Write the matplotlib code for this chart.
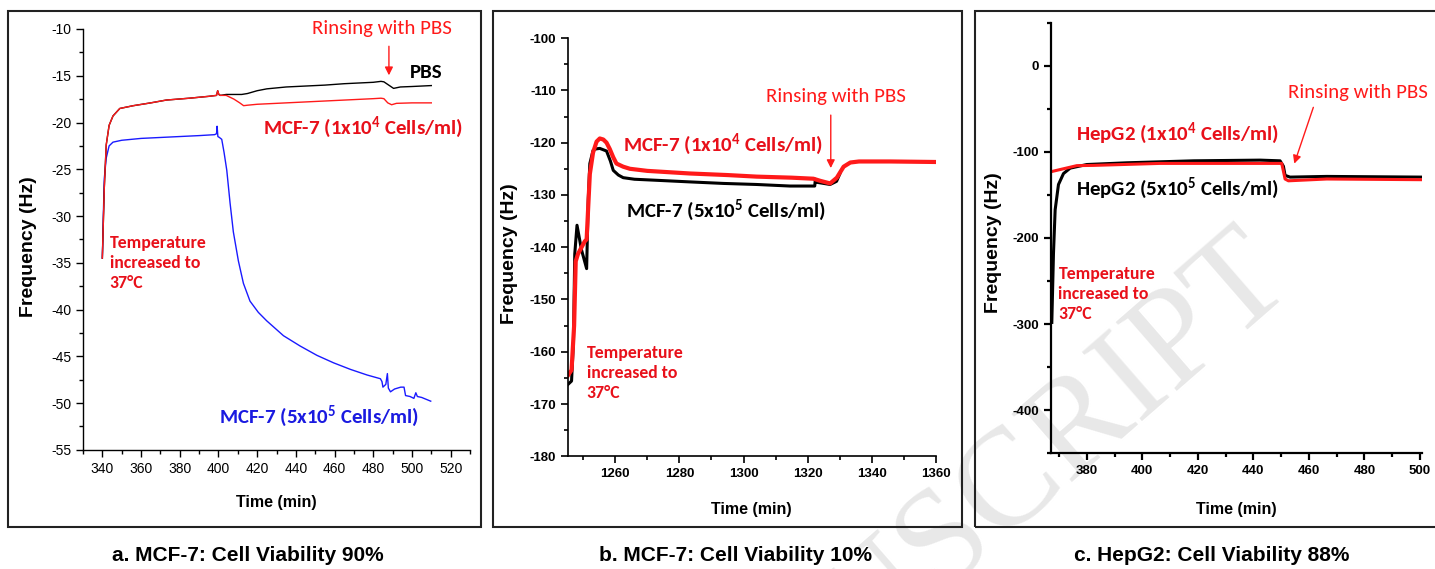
import matplotlib
matplotlib.use('Agg')
import matplotlib.pyplot as plt
from matplotlib import font_manager
from matplotlib.patches import Rectangle
from matplotlib.ticker import MultipleLocator

# fonts that are actually there
names = {f.name for f in font_manager.fontManager.ttflist}
sans = 'Liberation Sans' if 'Liberation Sans' in names else 'DejaVu Sans'
note_font = 'Carlito' if 'Carlito' in names else 'Lato'

plt.rcParams['axes.unicode_minus'] = False
plt.rcParams['mathtext.fontset'] = 'custom'
plt.rcParams['mathtext.rm'] = note_font + ':bold'
plt.rcParams['mathtext.it'] = note_font + ':bold'
plt.rcParams['mathtext.bf'] = note_font + ':bold'

# ---- panel a: MCF-7, cell viability 90% ----
a_pbs_t = [340, 341, 342, 343.5, 345.5, 349, 356, 365, 373, 385, 395, 399, 399.6, 400.2, 401,
           404, 408, 412, 415, 420, 425, 435, 445, 455, 465, 475, 480, 484, 485.5, 488, 490.5,
           494, 500, 505, 510]
a_pbs_f = [-34.5, -27.0, -22.4, -20.3, -19.3, -18.5, -18.2, -17.9, -17.6, -17.4, -17.2, -17.1,
           -16.6, -17.0, -17.1, -17.0, -17.0, -17.0, -16.9, -16.6, -16.4, -16.2, -16.1, -16.0,
           -15.85, -15.75, -15.7, -15.6, -15.65, -16.0, -16.35, -16.2, -16.15, -16.1, -16.05]
a_low_t = [340, 341, 342, 343.5, 345.5, 349, 356, 365, 373, 385, 395, 399, 399.6, 400.2, 401,
           404, 406, 408, 411, 413, 415, 420, 430, 440, 450, 460, 470, 480, 484, 485.5, 487.5,
           489.5, 492, 500, 510]
a_low_f = [-34.5, -27.0, -22.4, -20.3, -19.3, -18.5, -18.2, -17.9, -17.6, -17.4, -17.2, -17.1,
           -16.6, -17.0, -17.1, -17.1, -17.3, -17.5, -17.9, -18.2, -18.15, -18.05, -17.95,
           -17.85, -17.75, -17.65, -17.55, -17.45, -17.4, -17.45, -17.9, -18.1, -17.95, -17.9,
           -17.9]
a_high_t = [340, 340.5, 341, 342, 343.5, 345.5, 350, 360, 370, 380, 390, 398, 399, 399.3,
            399.7, 400.5, 401.7, 402.9, 404.3, 406.0, 407.7, 410.3, 412.9, 416.3, 420.6, 424.9,
            433.6, 442.2, 450.9, 459.5, 468.2, 476.8, 483.7, 484.5, 485, 486.5, 487.3, 487.8,
            488.9, 491, 494.2, 495.9, 496.7, 499, 501, 502, 502.8, 505, 509.7]
a_high_f = [-34.5, -30.0, -26.0, -23.8, -22.5, -22.1, -21.9, -21.7, -21.6, -21.5, -21.4, -21.3,
            -21.2, -20.4, -21.5, -21.6, -21.8, -23.2, -25.1, -28.6, -31.7, -34.8, -37.2, -39.1,
            -40.3, -41.2, -42.8, -43.9, -44.9, -45.7, -46.4, -47.0, -47.4, -47.7, -48.3, -48.0,
            -46.85, -48.4, -48.8, -48.5, -48.3, -48.3, -49.2, -49.3, -49.5, -48.9, -49.3, -49.4,
            -49.8]

# ---- panel b: MCF-7, cell viability 10% ----
b_high_t = [1245.2, 1246.4, 1247.0, 1247.4, 1248.1, 1249.5, 1251.1, 1251.6, 1252.1, 1253.1,
            1254.0, 1255.2, 1257.3, 1258.5, 1259.4, 1261.0, 1262.5, 1266.0, 1272.9, 1283.0,
            1293.7, 1304.0, 1314.5, 1322.2, 1322.4, 1323.0, 1327.0, 1329.0, 1330.0]
b_high_f = [-166.3, -165.6, -158.0, -141.3, -135.8, -140.5, -144.1, -130.9, -124.0, -121.5,
            -121.2, -121.1, -121.6, -123.5, -125.3, -126.2, -126.7, -127.0, -127.2, -127.5,
            -127.8, -128.0, -128.3, -128.3, -127.0, -127.6, -128.0, -127.4, -126.0]
b_low_t = [1245.2, 1246.4, 1247.2, 1247.7, 1248.4, 1250.5, 1251.1, 1252.1, 1253.1, 1254.2,
           1255.2, 1256.3, 1257.3, 1258.3, 1259.4, 1260.4, 1262.5, 1264.6, 1270.0, 1283.3,
           1295.0, 1304.1, 1315.0, 1321.8, 1323.9, 1327.0, 1329.1, 1331.2, 1333.3, 1336.0,
           1345.7, 1360.0]
b_low_f = [-164.6, -163.5, -155.0, -142.7, -141.3, -138.9, -138.5, -126.0, -121.9, -119.8,
           -119.2, -119.4, -120.0, -121.2, -122.8, -124.0, -124.6, -125.0, -125.4, -125.9,
           -126.2, -126.5, -126.7, -126.9, -127.3, -127.8, -126.7, -124.6, -123.8, -123.6,
           -123.6, -123.7]

# ---- panel c: HepG2, cell viability 88% ----
c_high_t = [367.4, 368.0, 368.6, 369.8, 371.6, 374.0, 380.0, 394.4, 418.4, 442.4, 449.6, 450.8,
            451.4, 453.2, 466.4, 500.6]
c_high_f = [-298.0, -217.8, -167.4, -138.0, -125.3, -119.0, -114.8, -112.8, -110.5, -109.7,
            -110.5, -116.8, -127.4, -129.4, -128.6, -129.4]
c_low_t = [367.0, 376.4, 382.4, 406.4, 442.4, 450.2, 451.4, 452.6, 466.4, 500.6]
c_low_f = [-123.2, -116.1, -115.8, -113.5, -113.5, -113.5, -131.6, -133.7, -131.6, -132.4]

captions = ['a. MCF-7: Cell Viability 90%', 'b. MCF-7: Cell Viability 10%',
            'c. HepG2: Cell Viability 88%']

W, H = 1435, 569
fig = plt.figure(figsize=(W / 100, H / 100), dpi=100)


def px_box(x0, y0, x1, y1):
    # pixel box (top-left origin) -> figure fraction [l, b, w, h]
    return [x0 / W, 1 - y1 / H, (x1 - x0) / W, (y1 - y0) / H]


def style_axes(ax, bold_ticks, xmaj, xmin, ymaj, ymin, ylab_xy, xlab_xy, lw=1.2):
    ax.set_facecolor('none')
    for s in ['top', 'right']:
        ax.spines[s].set_visible(False)
    for s in ['left', 'bottom']:
        ax.spines[s].set_linewidth(lw)
    ax.xaxis.set_major_locator(MultipleLocator(xmaj))
    ax.xaxis.set_minor_locator(MultipleLocator(xmin))
    ax.yaxis.set_major_locator(MultipleLocator(ymaj))
    ax.yaxis.set_minor_locator(MultipleLocator(ymin))
    ax.tick_params(which='major', length=5, width=lw, direction='out')
    ax.tick_params(which='minor', length=3, width=lw, direction='out')
    weight = 'bold' if bold_ticks else 'normal'
    size = 9.5 if bold_ticks else 10
    for lab in ax.get_xticklabels() + ax.get_yticklabels():
        lab.set_fontfamily(sans)
        lab.set_fontweight(weight)
        lab.set_fontsize(size)
    ax.set_ylabel('Frequency (Hz)', fontsize=14, fontweight='bold', family=sans, va='center')
    ax.yaxis.set_label_coords(*ylab_xy)
    ax.set_xlabel('Time (min)', fontsize=11.5, fontweight='bold', family=sans, va='center')
    ax.xaxis.set_label_coords(*xlab_xy)


def temp_note(ax, x, y):
    ax.text(x, y, 'Temperature\nincreased to\n37°C', color='#e8101a', fontsize=12.8,
            fontweight='bold', family=note_font, ha='left', va='center', linespacing=1.3)


red = '#ff1a1a'
note_red = '#e8101a'

# panel a
ax1 = fig.add_axes(px_box(83, 29, 470, 449.8))
ax1.plot(a_high_t, a_high_f, color='#1a1aff', lw=1.0)
ax1.plot(a_pbs_t, a_pbs_f, color='black', lw=1.0)
ax1.plot(a_low_t, a_low_f, color=red, lw=1.0)
ax1.set_xlim(330, 530)
ax1.set_ylim(-55, -10)
style_axes(ax1, False, 20, 10, 5, 2.5, (-0.142, 0.483), (0.5005, -0.125), lw=1.0)
ax1.text(484.7, -10, 'Rinsing with PBS', color=red, fontsize=15, family=note_font,
         ha='center', va='center')
ax1.annotate('', xy=(488.1, -15.25), xytext=(488.1, -11.55),
             arrowprops=dict(arrowstyle='-|>', color=red, lw=1.0, mutation_scale=12))
ax1.text(507.2, -14.66, 'PBS', color='black', fontsize=15, fontweight='bold',
         family=note_font, ha='center', va='center')
ax1.text(474.8, -20.6, 'MCF-7 (1x10$^4$ Cells/ml)', color=note_red, fontsize=15,
         fontweight='bold', family=note_font, ha='center', va='center')
ax1.text(452, -51.5, 'MCF-7 (5x10$^5$ Cells/ml)', color='#1a1ae0', fontsize=15,
         fontweight='bold', family=note_font, ha='center', va='center')
temp_note(ax1, 343.8, -35.0)

# panel b
ax2 = fig.add_axes(px_box(567.7, 38.1, 936, 456.3))
ax2.plot(b_high_t, b_high_f, color='black', lw=2.2)
ax2.plot(b_low_t, b_low_f, color=red, lw=3.0)
ax2.set_xlim(1245.2, 1360)
ax2.set_ylim(-180, -100)
style_axes(ax2, True, 20, 10, 10, 5, (-0.1586, 0.4837), (0.4996, -0.1275))
ax2.text(1328.8, -111.1, 'Rinsing with PBS', color=red, fontsize=15, family=note_font,
         ha='center', va='center')
ax2.annotate('', xy=(1327.2, -125.4), xytext=(1327.2, -114.2),
             arrowprops=dict(arrowstyle='-|>', color=red, lw=1.0, mutation_scale=12))
ax2.text(1293.7, -120.4, 'MCF-7 (1x10$^4$ Cells/ml)', color=note_red, fontsize=15,
         fontweight='bold', family=note_font, ha='center', va='center')
ax2.text(1294.6, -133.0, 'MCF-7 (5x10$^5$ Cells/ml)', color='black', fontsize=15,
         fontweight='bold', family=note_font, ha='center', va='center')
temp_note(ax2, 1251.1, -164.0)

# panel c
ax3 = fig.add_axes(px_box(1050.7, 22.5, 1421.7, 453.4))
ax3.plot(c_high_t, c_high_f, color='black', lw=2.2)
ax3.plot(c_low_t, c_low_f, color=red, lw=2.2)
ax3.set_xlim(367, 500.6)
ax3.set_ylim(-450, 50)
style_axes(ax3, True, 20, 10, 100, 50, (-0.1547, 0.4883), (0.5013, -0.1304), lw=1.6)
ax3.text(477.8, -30.7, 'Rinsing with PBS', color=red, fontsize=15, family=note_font,
         ha='center', va='center')
ax3.annotate('', xy=(454.4, -116.8), xytext=(461.9, -45.4),
             arrowprops=dict(arrowstyle='-|>', color=red, lw=1.0, mutation_scale=12))
ax3.text(412.7, -79.9, 'HepG2 (1x10$^4$ Cells/ml)', color=note_red, fontsize=15,
         fontweight='bold', family=note_font, ha='center', va='center')
ax3.text(412.7, -143.0, 'HepG2 (5x10$^5$ Cells/ml)', color='black', fontsize=15,
         fontweight='bold', family=note_font, ha='center', va='center')
temp_note(ax3, 369.8, -265.0)

# frames round each panel and captions below
for (x0, x1), cap, cx in zip([(8, 481), (493, 962), (975, 1445)], captions,
                             [247.5, 735.8, 1211.7]):
    fig.add_artist(Rectangle((x0 / W, 1 - 527 / H), (x1 - x0) / W, (527 - 11) / H,
                             transform=fig.transFigure, fill=False, lw=1.5,
                             edgecolor='#222222'))
    fig.text(cx / W, 1 - 561 / H, cap, fontsize=15, fontweight='bold',
             family=sans, ha='center', va='baseline')

# faint "manuscript" watermark
fig.text(1295 / W, 1 - 285 / H, 'MANUSCRIPT', fontsize=100, family='Liberation Serif',
         color='#e8e8e8', rotation=41, rotation_mode='anchor', ha='right', va='baseline',
         zorder=-1)

fig.savefig('out.png', dpi=100)
